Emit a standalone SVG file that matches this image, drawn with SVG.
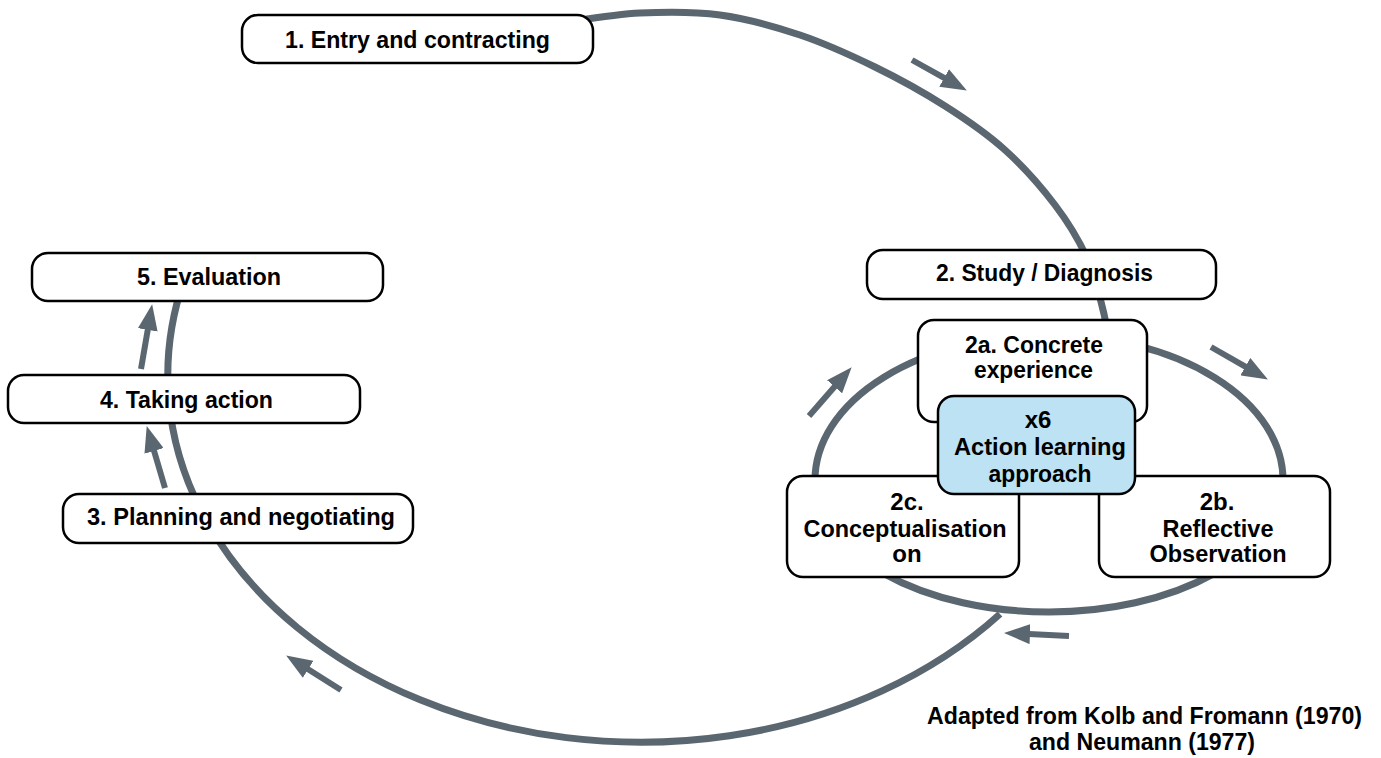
<svg xmlns="http://www.w3.org/2000/svg" width="1381" height="758" viewBox="0 0 1381 758">
<defs>
<style>
.ring{fill:none;stroke:#5b6770;stroke-width:7}
.arr{fill:none;stroke:#5b6770;stroke-width:6;marker-end:url(#head)}
.box{fill:#ffffff;stroke:#000;stroke-width:2.5}
.blue{fill:#bde2f3;stroke:#000;stroke-width:2.5}
text{font-family:"Liberation Sans Narrow","Liberation Sans",Arial,sans-serif;font-weight:bold;font-size:24px;fill:#000;text-anchor:middle}
</style>
<marker id="head" markerUnits="userSpaceOnUse" markerWidth="26" markerHeight="20" refX="1" refY="10" orient="auto">
<path d="M0,0 L26,10 L0,20 Z" fill="#5b6770"/>
</marker>
</defs>
<rect width="1381" height="758" fill="#fff"/>
<g id="connectors">
<path class="ring" d="M560,23 C573.3,21.3 613.3,14.3 640,13 C666.7,11.7 693.3,11.3 720,15 C746.7,18.7 774.2,26.3 800,35 C825.8,43.7 850.8,55.2 875,67 C899.2,78.8 923.3,92.2 945,106 C966.7,119.8 986.7,133.5 1005,150 C1023.3,166.5 1041.3,187 1055,205 C1068.7,223 1078.8,239.8 1087,258 C1095.2,276.2 1100.5,299.5 1104,314 C1107.5,328.5 1107.3,339.8 1108,345"/>
<path class="ring" d="M1000,614 A473,367 0 0 1 184,280"/>
<path class="ring" d="M815,480 A234,145 0 0 1 1283,480 A234,132 0 0 1 815,480"/>
<line class="arr" x1="912" y1="60" x2="945" y2="78.4"/>
<line class="arr" x1="1211" y1="347" x2="1246.2" y2="367.1"/>
<line class="arr" x1="809" y1="416" x2="835.2" y2="386"/>
<line class="arr" x1="1069" y1="636" x2="1029" y2="634.1"/>
<line class="arr" x1="341" y1="690" x2="307.3" y2="668.8"/>
<line class="arr" x1="165" y1="488" x2="153.8" y2="450"/>
<line class="arr" x1="141" y1="369" x2="147.9" y2="328.9"/>
</g>
<g id="n1">
<rect class="box" x="242" y="15" width="351" height="48" rx="16"/>
<text x="417.5" y="48" textLength="265" lengthAdjust="spacingAndGlyphs">1. Entry and contracting</text>
</g>
<g id="n2">
<rect class="box" x="867" y="250" width="349" height="49" rx="16"/>
<text x="1044.5" y="281" textLength="217" lengthAdjust="spacingAndGlyphs">2. Study / Diagnosis</text>
</g>
<g id="n2a">
<rect class="box" x="918" y="320" width="229" height="102" rx="16"/>
<text x="1034" y="353" textLength="138" lengthAdjust="spacingAndGlyphs">2a. Concrete</text>
<text x="1033.5" y="378" textLength="119" lengthAdjust="spacingAndGlyphs">experience</text>
</g>
<g id="n2c">
<rect class="box" x="787" y="476" width="232" height="101" rx="16"/>
<text x="907" y="510">2c.</text>
<text x="905" y="537" textLength="203" lengthAdjust="spacingAndGlyphs">Conceptualisation</text>
<text x="907" y="562">on</text>
</g>
<g id="n2b">
<rect class="box" x="1099" y="476" width="231" height="101" rx="16"/>
<text x="1217" y="510">2b.</text>
<text x="1218" y="537" textLength="111" lengthAdjust="spacingAndGlyphs">Reflective</text>
<text x="1218" y="562" textLength="137" lengthAdjust="spacingAndGlyphs">Observation</text>
</g>
<g id="nx6">
<rect class="blue" x="938" y="396" width="197" height="98" rx="16"/>
<text x="1038" y="428">x6</text>
<text x="1040" y="455" textLength="172" lengthAdjust="spacingAndGlyphs">Action learning</text>
<text x="1040" y="482" textLength="103" lengthAdjust="spacingAndGlyphs">approach</text>
</g>
<g id="n5">
<rect class="box" x="32" y="253" width="351" height="48" rx="16"/>
<text x="209" y="285" textLength="144" lengthAdjust="spacingAndGlyphs">5. Evaluation</text>
</g>
<g id="n4">
<rect class="box" x="8" y="375" width="352" height="48" rx="16"/>
<text x="186.5" y="408" textLength="173" lengthAdjust="spacingAndGlyphs">4. Taking action</text>
</g>
<g id="n3">
<rect class="box" x="63" y="494" width="350" height="49" rx="16"/>
<text x="241" y="525" textLength="308" lengthAdjust="spacingAndGlyphs">3. Planning and negotiating</text>
</g>
<g id="note">
<text x="1144.5" y="724" textLength="435" lengthAdjust="spacingAndGlyphs">Adapted from Kolb and Fromann (1970)</text>
<text x="1142" y="750" textLength="226" lengthAdjust="spacingAndGlyphs">and Neumann (1977)</text>
</g>
</svg>
